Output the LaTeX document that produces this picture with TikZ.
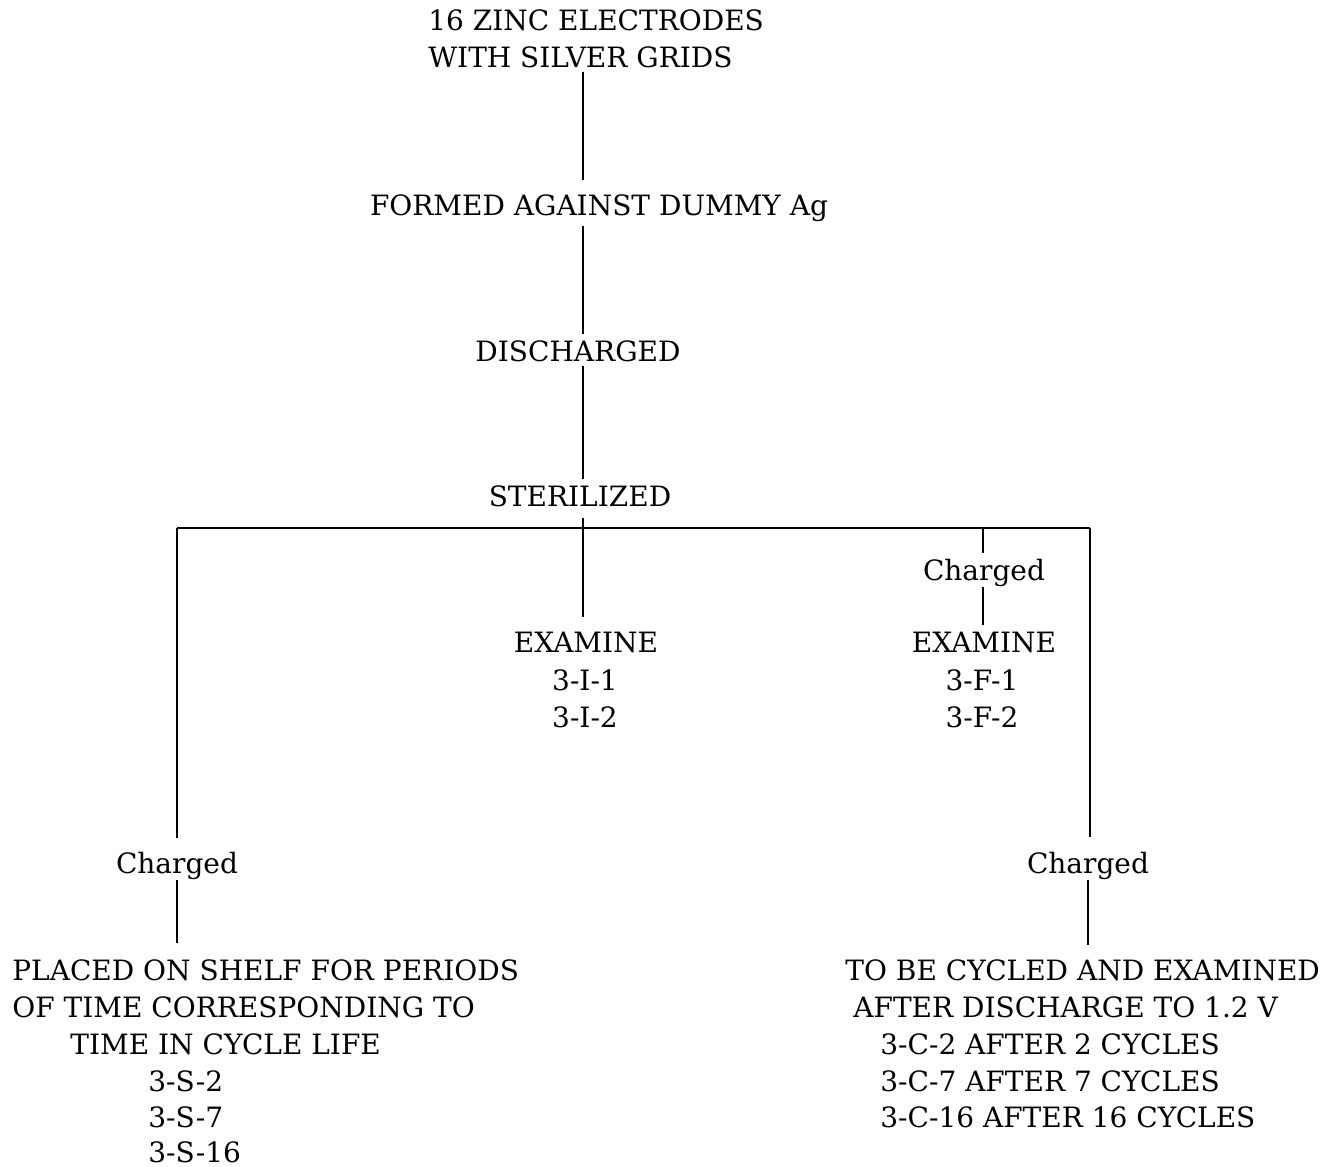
\documentclass[tikz,border=0pt]{standalone}
\usepackage{fontspec}
\setmainfont{DejaVu Serif}
\usetikzlibrary{positioning}

\tikzset{
  stage/.style={font=\fontsize{14}{18.5}\selectfont, inner sep=0pt, anchor=base},
  stageleft/.style={stage, anchor=base west},
  link/.style={line width=1pt, shorten <=2pt, shorten >=3pt},
  bar/.style={line width=1.4pt}
}

\begin{document}
\begin{tikzpicture}[x=0.5pt, y=-0.5pt]
    \useasboundingbox (0,0) rectangle (1344,1167);

    % Main trunk
    \coordinate (trunk) at (583,0);
    \node[stageleft] (title1) at (428,30) {16 ZINC ELECTRODES};
    \node[stageleft] (title2) at (428,67) {WITH SILVER GRIDS};
    \node[stage] (formed) at (599,215) {FORMED AGAINST DUMMY Ag};
    \node[stage] (discharged) at (578,361) {DISCHARGED};
    \node[stage] (sterilized) at (580,506) {STERILIZED};

    \draw[link, shorten >=7pt] (trunk |- title2.south) -- (trunk |- formed.north);
    \draw[link] (trunk |- formed.south) -- (trunk |- discharged.north);
    \draw[link] (trunk |- discharged.south) -- (trunk |- sterilized.north);

    % Branch bar
    \coordinate (barL) at (177,528);
    \coordinate (barF) at (983,528);
    \coordinate (barR) at (1090,528);
    \draw[bar] (barL) -- (barR);

    % Middle branch: examined at once
    \node[stage] (examI) at (586,652) {EXAMINE};
    \node[stage] (codeI1) at (585,690) {3-I-1};
    \node[stage] (codeI2) at (585,727) {3-I-2};
    \draw[link, shorten <=5.5pt, shorten >=7pt] (trunk |- sterilized.south) -- (trunk |- examI.north);

    % Charged, then examined
    \node[stage] (chgF) at (984,580) {Charged};
    \node[stage] (examF) at (984,652) {EXAMINE};
    \node[stage] (codeF1) at (982,690) {3-F-1};
    \node[stage] (codeF2) at (982,727) {3-F-2};
    \draw[link, shorten <=0pt, shorten >=2.5pt] (barF) -- (barF |- chgF.north);
    \draw[link, shorten <=0pt] (barF |- chgF.south) -- (barF |- examF.north);

    % Left branch: shelf
    \node[stage] (chgL) at (177,873) {Charged};
    \draw[link, shorten <=0pt, shorten >=6.5pt] (barL) -- (barL |- chgL.north);
    \node[stageleft] (shelf1) at (12,980) {PLACED ON SHELF FOR PERIODS};
    \node[stageleft] (shelf2) at (12,1017) {OF TIME CORRESPONDING TO};
    \node[stageleft] (shelf3) at (70,1054) {TIME IN CYCLE LIFE};
    \node[stageleft] (codeS2) at (148,1091) {3-S-2};
    \node[stageleft] (codeS7) at (148,1127) {3-S-7};
    \node[stageleft] (codeS16) at (148,1162) {3-S-16};
    \draw[link, shorten <=0pt, shorten >=8pt] (barL |- chgL.south) -- (barL |- shelf1.north);

    % Right branch: cycling
    \node[stage] (chgR) at (1088,873) {Charged};
    \draw[link, shorten <=0pt, shorten >=7pt] (barR) -- (barR |- chgR.north);
    \node[stageleft] (cycle1) at (845,980) {TO BE CYCLED AND EXAMINED};
    \node[stageleft] (cycle2) at (853,1017) {AFTER DISCHARGE TO 1.2 V};
    \node[stageleft] (codeC2) at (880,1054) {3-C-2 AFTER 2 CYCLES};
    \node[stageleft] (codeC7) at (880,1091) {3-C-7 AFTER 7 CYCLES};
    \node[stageleft] (codeC16) at (880,1127) {3-C-16 AFTER 16 CYCLES};
    \draw[link, shorten <=0pt, shorten >=7pt] (chgR.south) -- (chgR.south |- cycle1.north);
\end{tikzpicture}
\end{document}
